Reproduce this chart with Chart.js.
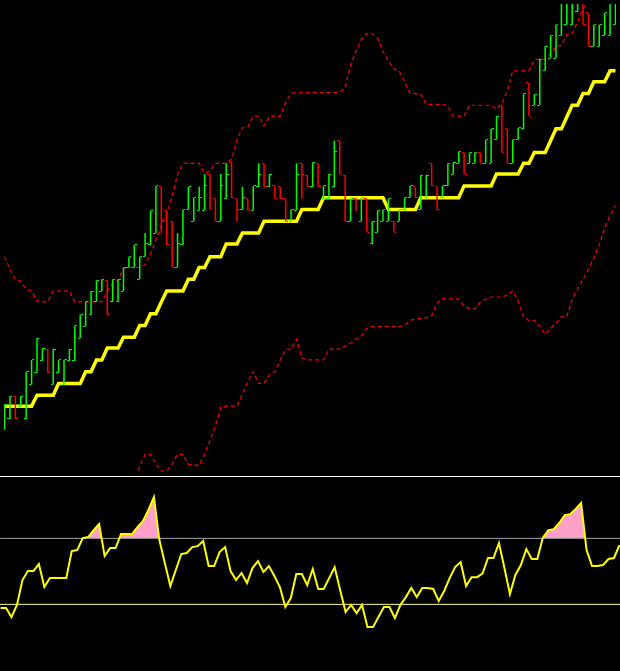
<!DOCTYPE html>
<html>
<head>
<meta charset="utf-8">
<script src="https://cdn.jsdelivr.net/npm/chart.js@4.4.1/dist/chart.umd.min.js"></script>
<style>
  html, body { margin: 0; padding: 0; background: #000; }
  #wrap { width: 620px; height: 671px; overflow: hidden; }
  canvas { display: block; }
  .sep { height: 1px; background: #fff; }
</style>
</head>
<body>
<div id="wrap">
  <canvas id="price" width="620" height="476"></canvas>
  <div class="sep"></div>
  <canvas id="osc" width="620" height="194"></canvas>
</div>
<script>
// price bars (one per period)
const highs = [
  69, 77, 77, 77, 102, 114, 136, 126, 125, 125,
  114, 114, 125, 149, 160, 173, 184, 195, 196, 195,
  196, 196, 208, 219, 231, 219, 243, 266, 291, 290,
  266, 255, 243, 267, 290, 279, 290, 303, 303, 278,
  303, 314, 315, 278, 290, 278, 291, 314, 314, 303,
  291, 290, 278, 267, 314, 314, 302, 315, 314, 291,
  303, 337, 337, 302, 278, 278, 279, 278, 255, 266,
  267, 278, 255, 267, 279, 291, 290, 302, 302, 314,
  290, 291, 314, 315, 326, 325, 325, 325, 325, 338,
  349, 362, 373, 349, 338, 350, 385, 396, 384, 420,
  433, 444, 455, 488, 490, 489, 486, 492, 467, 455,
  455, 467, 484, 490
];
const lows = [
  43, 54, 54, 67, 54, 89, 101, 113, 101, 89,
  101, 89, 113, 113, 136, 148, 160, 173, 184, 160,
  173, 173, 184, 208, 208, 196, 219, 231, 243, 243,
  231, 208, 208, 231, 267, 255, 266, 266, 267, 255,
  255, 278, 279, 255, 267, 266, 266, 290, 290, 290,
  278, 278, 255, 255, 266, 278, 290, 290, 290, 278,
  278, 290, 303, 255, 255, 266, 255, 244, 232, 244,
  255, 255, 244, 255, 267, 279, 279, 267, 279, 291,
  267, 279, 291, 303, 314, 303, 314, 314, 314, 314,
  314, 338, 325, 314, 314, 338, 349, 362, 373, 373,
  408, 421, 421, 444, 455, 455, 468, 455, 433, 433,
  433, 444, 444, 455
];
const opens = [
  43, 54, 77, 67, 54, 89, 101, 113, 125, 89,
  101, 89, 113, 113, 136, 148, 160, 173, 184, 195,
  173, 173, 184, 208, 208, 196, 219, 231, 243, 290,
  266, 255, 208, 231, 267, 255, 266, 266, 303, 278,
  255, 278, 315, 278, 267, 278, 266, 290, 314, 290,
  291, 290, 278, 255, 266, 314, 302, 290, 314, 278,
  278, 290, 337, 302, 255, 278, 255, 278, 232, 244,
  255, 255, 255, 255, 267, 279, 290, 267, 279, 314,
  290, 279, 291, 303, 314, 325, 314, 314, 325, 314,
  314, 338, 373, 349, 314, 338, 349, 396, 373, 373,
  408, 421, 421, 444, 455, 455, 468, 492, 467, 433,
  433, 444, 444, 455
];
const closes = [
  69, 77, 54, 77, 102, 114, 136, 126, 101, 125,
  114, 114, 125, 149, 160, 173, 184, 195, 196, 160,
  196, 196, 208, 219, 231, 219, 232, 266, 291, 256,
  231, 208, 232, 267, 290, 279, 279, 291, 267, 255,
  291, 303, 279, 267, 279, 266, 291, 303, 290, 303,
  278, 278, 255, 267, 303, 303, 290, 315, 290, 291,
  303, 326, 303, 255, 278, 266, 279, 244, 255, 266,
  267, 278, 244, 267, 279, 291, 279, 302, 302, 291,
  267, 291, 314, 315, 326, 303, 325, 325, 314, 338,
  349, 362, 325, 314, 338, 350, 385, 362, 384, 420,
  433, 444, 455, 488, 490, 489, 486, 455, 433, 455,
  455, 467, 484, 490
];

// thick trailing line
const stopLine = [
  67, 67, 67, 67, 67, 67, 78, 78, 78, 78,
  90, 90, 90, 90, 90, 102, 102, 114, 114, 126,
  126, 126, 137, 137, 137, 149, 149, 161, 161, 173,
  184, 184, 184, 184, 196, 196, 208, 208, 219, 219,
  219, 232, 232, 232, 243, 243, 243, 243, 255, 255,
  255, 255, 255, 255, 255, 267, 267, 267, 267, 279,
  279, 279, 279, 279, 279, 279, 279, 279, 279, 279,
  279, 267, 267, 267, 267, 267, 267, 279, 279, 279,
  279, 279, 279, 279, 279, 291, 291, 291, 291, 291,
  291, 303, 303, 303, 303, 303, 314, 314, 325, 325,
  325, 337, 349, 349, 361, 373, 373, 385, 385, 397,
  397, 397, 408, 408
];

// dotted envelope
const upperBand = [
  219, 206, 196, 194, 186, 184, 174, 173, 173, 184,
  184, 184, 184, 173, 173, 173, 173, 173, 173, 184,
  192, 195, 207, 208, 208, 208, 211, 222, 236, 251,
  263, 280, 303, 314, 314, 314, 314, 304, 306, 314,
  314, 314, 318, 338, 350, 351, 362, 362, 352, 362,
  362, 362, 376, 385, 386, 386, 386, 386, 386, 386,
  386, 386, 386, 391, 414, 428, 440, 446, 446, 441,
  428, 418, 410, 408, 397, 385, 385, 384, 374, 374,
  374, 374, 372, 362, 362, 362, 373, 373, 373, 373,
  373, 369, 375, 388, 408, 408, 408, 408, 419, 420,
  420, 425, 433, 434, 445, 446, 458, 471, 481, null,
  null, null, null, null
];
const lowerBand = [
  null, null, null, null, null, null, null, null, null, null,
  null, null, null, null, null, null, null, null, null, null,
  null, null, null, null, -12, 6, 18, 18, 8, 1,
  1, 8, 18, 18, 8, 7, 7, 18, 32, 47,
  66, 67, 67, 67, 79, 92, 102, 90, 90, 99,
  102, 114, 125, 125, 135, 116, 114, 114, 114, 114,
  125, 125, 125, 128, 131, 135, 138, 146, 148, 148,
  148, 148, 148, 148, 149, 154, 156, 156, 157, 159,
  172, 176, 176, 176, 176, 169, 166, 166, 173, 176,
  178, 178, 178, 180, 184, 174, 158, 154, 154, 148,
  140, 146, 151, 158, 158, 176, 186, 196, 206, 218,
  231, 248, 261, 271
];

// oscillator panel
const oscValues = [
  27.8, 27.8, 22.3, 29.6, 44.7, 50.2, 50.2, 54.4, 40.5, 45.9,
  45.9, 45.9, 45.9, 62.3, 62.9, 70.2, 70.8, 75.0, 78.7, 59.3,
  64.1, 64.1, 72.6, 72.6, 72.6, 76.8, 80.5, 87.2, 95.0, 69.0,
  55.0, 41.1, 50.8, 60.5, 61.1, 64.7, 65.3, 68.4, 53.2, 53.2,
  61.7, 64.7, 50.2, 44.7, 49.0, 42.9, 52.0, 56.2, 49.6, 53.2,
  47.2, 40.5, 28.4, 33.8, 48.4, 48.4, 41.7, 51.4, 39.3, 39.3,
  45.9, 52.6, 38.7, 25.3, 29.6, 24.7, 29.6, 16.2, 16.2, 22.3,
  28.4, 28.4, 21.7, 29.6, 34.4, 39.9, 34.4, 39.9, 39.9, 39.3,
  32.0, 38.1, 45.9, 52.6, 55.6, 41.1, 46.5, 46.5, 48.7, 58.1,
  58.1, 67.2, 52.0, 36.2, 47.8, 53.8, 63.5, 57.5, 57.5, 70.2,
  75.0, 75.6, 79.3, 84.1, 84.7, 87.8, 91.4, 62.9, 53.2, 53.2,
  53.8, 57.5, 58.1, 65.9
];
const oscLevels = [70, 30];

const UP = '#00ff00';
const DOWN = '#ff0000';
const X_MIN = -0.1;
const X_MAX = highs.length - 1 + 0.1;

const isUp = i => closes[i] >= opens[i];
const xy = arr => arr.map((v, i) => ({ x: i, y: v }));

// small open / close tick images used as point styles
function tickImage(color, side) {
    const c = document.createElement('canvas');
    c.width = 5;
    c.height = 1;
    const g = c.getContext('2d');
    g.fillStyle = color;
    g.fillRect(side === 'left' ? 0 : 3, 0, 2, 1);
    return c;
}
const ticks = {
    left: { up: tickImage(UP, 'left'), down: tickImage(DOWN, 'left') },
    right: { up: tickImage(UP, 'right'), down: tickImage(DOWN, 'right') }
};

const xScale = { type: 'linear', display: false, min: X_MIN, max: X_MAX, offset: false, grid: { offset: false } };
const baseOptions = {
    responsive: false,
    animation: false,
    events: [],
    layout: { padding: 0 },
    plugins: { legend: { display: false }, tooltip: { enabled: false } }
};

// Price panel
new Chart(document.getElementById('price'), {
    type: 'bar',
    data: {
        datasets: [
            {
                type: 'bar',
                data: highs.map((h, i) => ({ x: i, y: [lows[i], h] })),
                backgroundColor: highs.map((_, i) => isUp(i) ? UP : DOWN),
                barThickness: 1.5,
                inflateAmount: 0,
                borderWidth: 0,
                grouped: false
            },
            {
                type: 'line',
                data: xy(opens),
                showLine: false,
                pointRadius: 2,
                pointBorderWidth: 0,
                pointStyle: ctx => ticks.left[isUp(ctx.dataIndex) ? 'up' : 'down']
            },
            {
                type: 'line',
                data: xy(closes),
                showLine: false,
                pointRadius: 2,
                pointBorderWidth: 0,
                pointStyle: ctx => ticks.right[isUp(ctx.dataIndex) ? 'up' : 'down']
            },
            {
                type: 'line',
                data: xy(stopLine),
                borderColor: '#ffff00',
                borderWidth: 3.5,
                pointRadius: 0,
                tension: 0
            },
            {
                type: 'line',
                data: xy(upperBand),
                borderColor: '#ff0000',
                borderWidth: 1.2,
                borderDash: [4, 3],
                pointRadius: 0
            },
            {
                type: 'line',
                data: xy(lowerBand),
                borderColor: '#ff0000',
                borderWidth: 1.2,
                borderDash: [4, 3],
                pointRadius: 0
            }
        ]
    },
    options: {
        ...baseOptions,
        scales: {
            x: xScale,
            y: { display: false, min: 0, max: 476 }
        }
    }
});

// Oscillator panel
new Chart(document.getElementById('osc'), {
    type: 'line',
    data: {
        datasets: [
            {
                data: xy(oscValues),
                borderColor: '#ffff00',
                borderWidth: 2,
                pointRadius: 0,
                tension: 0,
                fill: { target: { value: oscLevels[0] }, above: '#ffa0c8', below: 'rgba(0,0,0,0)' }
            },
            {
                data: [{ x: X_MIN, y: oscLevels[0] }, { x: X_MAX, y: oscLevels[0] }],
                borderColor: '#a0a0a0',
                borderWidth: 1,
                pointRadius: 0
            },
            {
                data: [{ x: X_MIN, y: oscLevels[1] }, { x: X_MAX, y: oscLevels[1] }],
                borderColor: '#ffff80',
                borderWidth: 1,
                pointRadius: 0
            }
        ]
    },
    options: {
        ...baseOptions,
        plugins: { ...baseOptions.plugins, filler: { drawTime: 'beforeDatasetsDraw' } },
        scales: {
            x: xScale,
            y: { display: false, min: -10.4, max: 107.2 }
        }
    }
});
</script>
</body>
</html>
